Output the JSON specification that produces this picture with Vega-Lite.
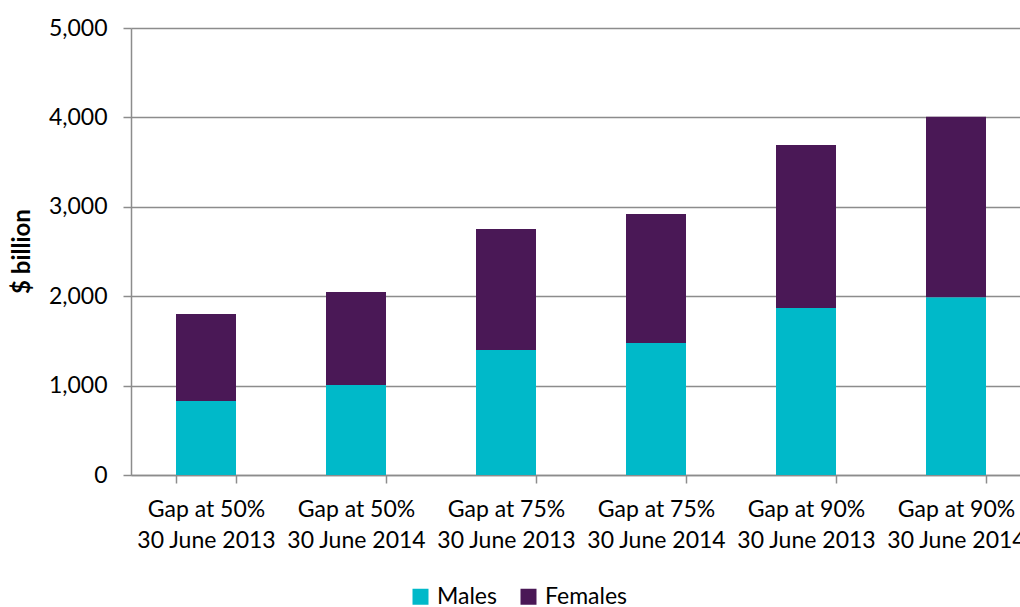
{
  "$schema": "https://vega.github.io/schema/vega-lite/v6.json",
  "autosize": {"type": "none"},
  "padding": {"left": 131, "top": 28, "right": 0, "bottom": 132},
  "width": 900,
  "height": 447,
  "background": "white",
  "config": {
    "view": {"stroke": null},
    "font": "Lato",
    "axis": {"labelFont": "Lato", "titleFont": "Lato", "labelColor": "#000000", "titleColor": "#000000"}
  },
  "data": {
    "values": [
      {"category": "Gap at 50%|30 June 2013", "sex": "Males", "value": 828},
      {"category": "Gap at 50%|30 June 2013", "sex": "Females", "value": 973},
      {"category": "Gap at 50%|30 June 2014", "sex": "Males", "value": 1007},
      {"category": "Gap at 50%|30 June 2014", "sex": "Females", "value": 1040},
      {"category": "Gap at 75%|30 June 2013", "sex": "Males", "value": 1398},
      {"category": "Gap at 75%|30 June 2013", "sex": "Females", "value": 1354},
      {"category": "Gap at 75%|30 June 2014", "sex": "Males", "value": 1477},
      {"category": "Gap at 75%|30 June 2014", "sex": "Females", "value": 1442},
      {"category": "Gap at 90%|30 June 2013", "sex": "Males", "value": 1868},
      {"category": "Gap at 90%|30 June 2013", "sex": "Females", "value": 1823},
      {"category": "Gap at 90%|30 June 2014", "sex": "Males", "value": 1988},
      {"category": "Gap at 90%|30 June 2014", "sex": "Females", "value": 2018}
    ]
  },
  "mark": {"type": "bar"},
  "encoding": {
    "x": {
      "field": "category",
      "type": "nominal",
      "sort": null,
      "scale": {"paddingInner": 0.6, "paddingOuter": 0.3},
      "axis": {
        "title": null,
        "labelAngle": 0,
        "labelExpr": "isString(datum.value) ? split(datum.value, '|') : ''",
        "labelFontSize": 23,
        "labelLineHeight": 31,
        "labelPadding": 15,
        "labelOverlap": false,
        "labelBound": false,
        "tickBand": "extent",
        "tickSize": 8,
        "tickColor": "#8c8c8c",
        "tickWidth": 1.5,
        "domainColor": "#8c8c8c",
        "domainWidth": 1.5,
        "labelBaseline": "top"
      }
    },
    "y": {
      "field": "value",
      "type": "quantitative",
      "stack": "zero",
      "scale": {"domain": [0, 5000], "nice": false},
      "axis": {
        "title": "$ billion",
        "titleFontSize": 24,
        "titleFontWeight": "bold",
        "titleX": -109,
        "titleY": 223,
        "titleAlign": "center",
        "titleBaseline": "middle",
        "values": [0, 1000, 2000, 3000, 4000, 5000],
        "format": ",d",
        "labelFontSize": 23,
        "labelPadding": 16,
        "labelBound": false,
        "labelOverlap": false,
        "tickSize": 8,
        "tickColor": "#8c8c8c",
        "tickWidth": 1.5,
        "domainColor": "#8c8c8c",
        "domainWidth": 1.5,
        "grid": true,
        "gridColor": "#8c8c8c",
        "gridWidth": 1.5
      }
    },
    "color": {
      "field": "sex",
      "type": "nominal",
      "sort": ["Males", "Females"],
      "scale": {"domain": ["Males", "Females"], "range": ["#00B9C9", "#4A1856"]},
      "legend": {
        "title": null,
        "orient": "none",
        "direction": "horizontal",
        "legendX": 278,
        "legendY": 557,
        "symbolType": "square",
        "symbolSize": 256,
        "symbolStrokeWidth": 0,
        "symbolOpacity": 1,
        "labelFontSize": 23,
        "labelFont": "Lato",
        "labelColor": "#000000",
        "columnPadding": 20,
        "labelOffset": 5
      }
    },
    "order": {"field": "sex", "sort": "descending"}
  }
}
